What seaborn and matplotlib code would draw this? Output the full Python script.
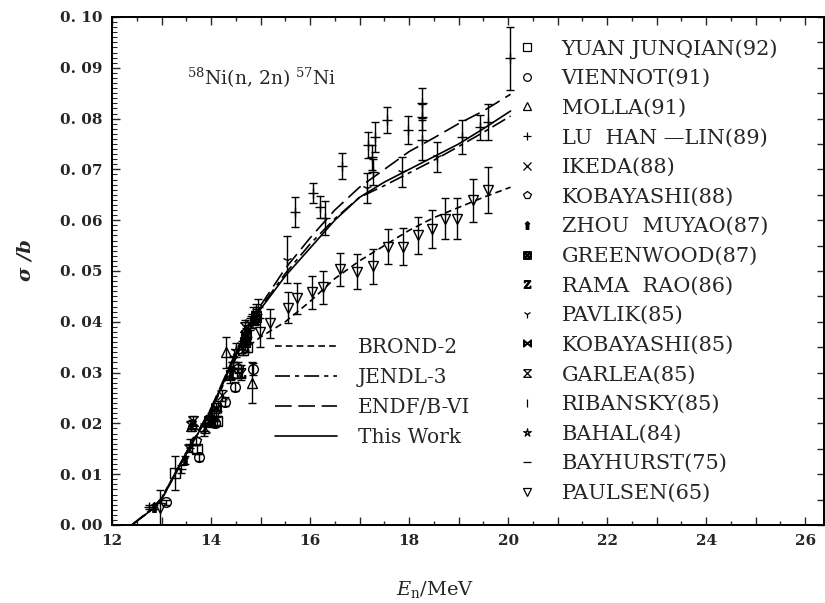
import numpy as np
import pandas as pd
import matplotlib
matplotlib.use("Agg")
import matplotlib.pyplot as plt
from matplotlib.lines import Line2D
import seaborn as sns

# evaluated curves
e_brond = [12.4, 12.8, 13.0, 13.5, 14.0, 14.5, 14.8, 15.0, 15.5, 16.0, 16.5, 17.0, 17.5, 18.0, 18.5, 19.0, 19.5, 20.05]
s_brond = [0.0, 0.003, 0.005, 0.014, 0.0225, 0.0328, 0.0355, 0.037, 0.040, 0.044, 0.0485, 0.052, 0.055, 0.058, 0.0605, 0.0625, 0.0645, 0.0665]
e_eval = [12.4, 12.8, 13.0, 13.5, 14.0, 14.5, 15.0, 15.5, 16.0, 16.5, 17.0, 17.5, 18.0, 18.5, 19.0, 19.5, 20.05]
s_jendl = [0.0, 0.0032, 0.0053, 0.0142, 0.0228, 0.0337, 0.0428, 0.0495, 0.0553, 0.0603, 0.0645, 0.0668, 0.0693, 0.0718, 0.0745, 0.0773, 0.0805]
s_endf = [0.0, 0.003, 0.0052, 0.0143, 0.023, 0.034, 0.0432, 0.0505, 0.0565, 0.062, 0.0665, 0.070, 0.0735, 0.0762, 0.079, 0.0815, 0.0848]
s_this = [0.0, 0.003, 0.005, 0.014, 0.0225, 0.0335, 0.0425, 0.049, 0.0545, 0.060, 0.0645, 0.0675, 0.070, 0.0725, 0.075, 0.078, 0.0815]
curve_names = ['BROND-2', 'JENDL-3', 'ENDF/B-VI', 'This Work']

# measurements: energy, cross section, error
yuan_e = [13.27, 13.72, 14.12, 14.52, 14.65, 14.73]
yuan_s = [0.0102, 0.0150, 0.0205, 0.0300, 0.0345, 0.0350]
yuan_d = [0.0033, 0.0008, 0.0008, 0.0010, 0.0010, 0.0010]
viennot_e = [13.10, 13.76, 14.08, 14.28, 14.48, 14.85]
viennot_s = [0.0045, 0.0133, 0.0200, 0.0243, 0.0272, 0.0307]
viennot_d = [0.0005, 0.0007, 0.0008, 0.0009, 0.0009, 0.0012]
molla_e = [13.62, 14.30, 14.82]
molla_s = [0.0198, 0.0340, 0.0280]
molla_d = [0.0008, 0.0030, 0.0040]
lu_e = [12.75, 13.85, 14.45, 15.70, 16.06, 16.20, 16.30, 16.65, 17.17, 17.25, 17.28, 17.31, 17.56, 17.98, 18.26, 18.26, 18.26, 19.07, 19.43, 19.60, 20.04]
lu_s = [0.0035, 0.0185, 0.0320, 0.0616, 0.0653, 0.0626, 0.0604, 0.0707, 0.0748, 0.0724, 0.0695, 0.0764, 0.0797, 0.0778, 0.0831, 0.0803, 0.0758, 0.0764, 0.0783, 0.0793, 0.0919]
lu_d = [0.0004, 0.0010, 0.0010, 0.0030, 0.0020, 0.0022, 0.0034, 0.0026, 0.0025, 0.0025, 0.0025, 0.0030, 0.0025, 0.0028, 0.0030, 0.0025, 0.0040, 0.0033, 0.0025, 0.0035, 0.0062]
ikeda_e = [13.55, 13.88, 14.22, 14.62, 14.78]
ikeda_s = [0.0150, 0.0190, 0.0255, 0.0350, 0.0395]
ikeda_d = [0.0007, 0.0009, 0.0010, 0.0012, 0.0012]
kob88_e = [13.70, 14.05, 14.55, 14.88]
kob88_s = [0.0165, 0.0220, 0.0310, 0.0405]
kob88_d = [0.0008, 0.0009, 0.0011, 0.0012]
zhou_e = [12.85, 13.48, 14.00, 14.40, 14.70]
zhou_s = [0.0035, 0.0128, 0.0210, 0.0300, 0.0380]
zhou_d = [0.0004, 0.0008, 0.0010, 0.0012, 0.0014]
green_e = [13.95, 14.68, 14.90]
green_s = [0.0205, 0.0360, 0.0410]
green_d = [0.0012, 0.0015, 0.0015]
rama_e = [14.38, 14.60]
rama_s = [0.0295, 0.0300]
rama_d = [0.0015, 0.0015]
pavlik_e = [14.75, 15.54, 17.15, 17.86, 18.57]
pavlik_s = [0.0385, 0.0522, 0.0663, 0.0695, 0.0724]
pavlik_d = [0.0015, 0.0046, 0.0030, 0.0030, 0.0030]
kob85_e = [14.10, 14.70]
kob85_s = [0.0230, 0.0375]
kob85_d = [0.0010, 0.0012]
garlea_e = [13.60, 13.64, 14.68]
garlea_s = [0.0195, 0.0205, 0.0390]
garlea_d = [0.0009, 0.0009, 0.0014]
rib_e = [14.15, 14.80]
rib_s = [0.0235, 0.0400]
rib_d = [0.0010, 0.0012]
bahal_e = [14.50, 14.90]
bahal_s = [0.0345, 0.0420]
bahal_d = [0.0014, 0.0015]
bay_e = [13.40, 13.58, 14.10, 14.45, 14.85, 14.95]
bay_s = [0.0110, 0.0160, 0.0215, 0.0320, 0.0415, 0.0430]
bay_d = [0.0008, 0.0009, 0.0010, 0.0012, 0.0015, 0.0015]
paulsen_e = [12.97, 14.99, 15.19, 15.56, 15.74, 16.04, 16.26, 16.61, 16.95, 17.27, 17.58, 17.88, 18.18, 18.46, 18.73, 18.97, 19.29, 19.60]
paulsen_s = [0.0033, 0.0379, 0.0397, 0.0428, 0.0446, 0.0458, 0.0468, 0.0503, 0.0499, 0.0509, 0.0548, 0.0548, 0.0570, 0.0583, 0.0603, 0.0603, 0.0639, 0.0660]
paulsen_d = [0.0035, 0.0028, 0.0028, 0.0030, 0.0030, 0.0032, 0.0032, 0.0033, 0.0035, 0.0035, 0.0035, 0.0037, 0.0037, 0.0037, 0.0040, 0.0040, 0.0043, 0.0045]

exp_labels = ['YUAN JUNQIAN(92)', 'VIENNOT(91)', 'MOLLA(91)', 'LU  HAN —LIN(89)', 'IKEDA(88)',
              'KOBAYASHI(88)', 'ZHOU  MUYAO(87)', 'GREENWOOD(87)', 'RAMA  RAO(86)', 'PAVLIK(85)',
              'KOBAYASHI(85)', 'GARLEA(85)', 'RIBANSKY(85)', 'BAHAL(84)', 'BAYHURST(75)', 'PAULSEN(65)']

yticks = [0.0, 0.01, 0.02, 0.03, 0.04, 0.05, 0.06, 0.07, 0.08, 0.09, 0.10]
ytick_labels = ['0. 00', '0. 01', '0. 02', '0. 03', '0. 04', '0. 05', '0. 06', '0. 07', '0. 08', '0. 09', '0. 10']
xticks = list(range(12, 27))
xtick_labels = ['12', '', '14', '', '16', '', '18', '', '20', '', '22', '', '24', '', '26']

sns.set_style("ticks")
plt.rcParams['font.family'] = ['DejaVu Serif', 'DejaVu Sans']
plt.rcParams['mathtext.fontset'] = 'dejavuserif'

fig = plt.figure(figsize=(8.25, 6.03), dpi=100)
ax = fig.add_axes([112 / 825, 78 / 603, 712 / 825, 508 / 603])

rows = []
for name, ee, ss in [('BROND-2', e_brond, s_brond), ('JENDL-3', e_eval, s_jendl),
                     ('ENDF/B-VI', e_eval, s_endf), ('This Work', e_eval, s_this)]:
    for a, b in zip(ee, ss):
        rows.append({'E': a, 'sigma': b, 'lib': name})
curves = pd.DataFrame(rows)
dash_map = {'BROND-2': (4, 2.5), 'JENDL-3': (9, 3, 2.5, 3), 'ENDF/B-VI': (10, 4), 'This Work': ''}
sns.lineplot(data=curves, x='E', y='sigma', style='lib', dashes=dash_map, color='black',
             lw=1.2, legend=False, sort=False, estimator=None, ax=ax)

hourglass = [(-1, 1), (1, 1), (-1, -1), (1, -1), (-1, 1)]
sets = [
    (yuan_e, yuan_s, yuan_d, 's'),
    (viennot_e, viennot_s, viennot_d, 'o'),
    (molla_e, molla_s, molla_d, '^'),
    (lu_e, lu_s, lu_d, '+'),
    (ikeda_e, ikeda_s, ikeda_d, 'x'),
    (kob88_e, kob88_s, kob88_d, 'p'),
    (zhou_e, zhou_s, zhou_d, r'$\Uparrow$'),
    (green_e, green_s, green_d, r'$\boxtimes$'),
    (rama_e, rama_s, rama_d, r'$\mathrm{z}$'),
    (pavlik_e, pavlik_s, pavlik_d, '1'),
    (kob85_e, kob85_s, kob85_d, r'$\bowtie$'),
    (garlea_e, garlea_s, garlea_d, hourglass),
    (rib_e, rib_s, rib_d, '|'),
    (bahal_e, bahal_s, bahal_d, r'$\star$'),
    (bay_e, bay_s, bay_d, '_'),
    (paulsen_e, paulsen_s, paulsen_d, 'v'),
]
handles = []
for (ee, ss, dd, m), lab in zip(sets, exp_labels):
    ax.errorbar(ee, ss, yerr=dd, fmt='none', ecolor='black', elinewidth=1.0, capsize=3, capthick=1.0)
    ax.plot(ee, ss, ls='none', marker=m, ms=7, mfc='none', mec='black', mew=1.0, color='black')
    handles.append(Line2D([], [], ls='none', marker=m, ms=5.5, mfc='none', mec='black', mew=0.9, color='black'))

leg1 = ax.legend(handles, exp_labels, loc='upper left', bbox_to_anchor=(0.569, 0.957),
                 frameon=False, fontsize=15, handlelength=0.9, handletextpad=1.24,
                 labelspacing=0.51, borderpad=0, borderaxespad=0)
ax.add_artist(leg1)

curve_handles = [Line2D([], [], color='black', lw=1.2, dashes=dash_map[n]) if dash_map[n] else
                 Line2D([], [], color='black', lw=1.2) for n in curve_names]
ax.legend(curve_handles, curve_names, loc='upper left', bbox_to_anchor=(0.229, 0.368),
          frameon=False, fontsize=14.5, handlelength=3.1, handletextpad=1.0,
          labelspacing=0.55, borderpad=0, borderaxespad=0)

ax.text(0.105, 0.88, r'$^{58}$Ni(n, 2n) $^{57}$Ni', transform=ax.transAxes, fontsize=13.5,
        ha='left', va='center')

ax.set_xlim(12, 26.38)
ax.set_ylim(0, 0.10)
ax.set_xticks(xticks)
ax.set_xticklabels(xtick_labels, fontweight='bold', fontsize=11)
ax.set_xticks(np.arange(12, 26.4, 0.5), minor=True)
ax.set_yticks(yticks)
ax.set_yticklabels(ytick_labels, fontweight='bold', fontsize=11)
ax.set_yticks(np.arange(0, 0.1005, 0.001), minor=True)
ax.tick_params(axis='x', which='both', direction='in', top=True, bottom=True, pad=6.5)
ax.tick_params(axis='x', which='major', length=6, width=1.0)
ax.tick_params(axis='x', which='minor', length=3, width=1.0)
ax.tick_params(axis='y', which='both', direction='in', left=True, right=False, pad=7)
ax.tick_params(axis='y', which='major', length=6, width=1.0)
ax.tick_params(axis='y', which='minor', length=3.5, width=0.8)

ax2 = ax.twinx()
ax2.set_ylim(0, 0.10)
ax2.set_yticks(np.arange(0, 0.1005, 0.005))
ax2.set_yticklabels([])
ax2.tick_params(axis='y', direction='in', length=5, width=1.0)

for a in (ax, ax2):
    for sp in a.spines.values():
        sp.set_linewidth(1.3)
        sp.set_color('black')

ax.set_xlabel('')
ax.set_ylabel('')
fig.text(25 / 825, 1 - 260 / 603, 'σ /b', rotation=90, ha='center', va='center',
         fontsize=14, fontweight='bold', fontstyle='italic')
fig.text(435 / 825, 1 - 590 / 603, r'$E_{\rm n}$/MeV', ha='center', va='center', fontsize=14)

fig.savefig('out.png', dpi=100, facecolor='white')
